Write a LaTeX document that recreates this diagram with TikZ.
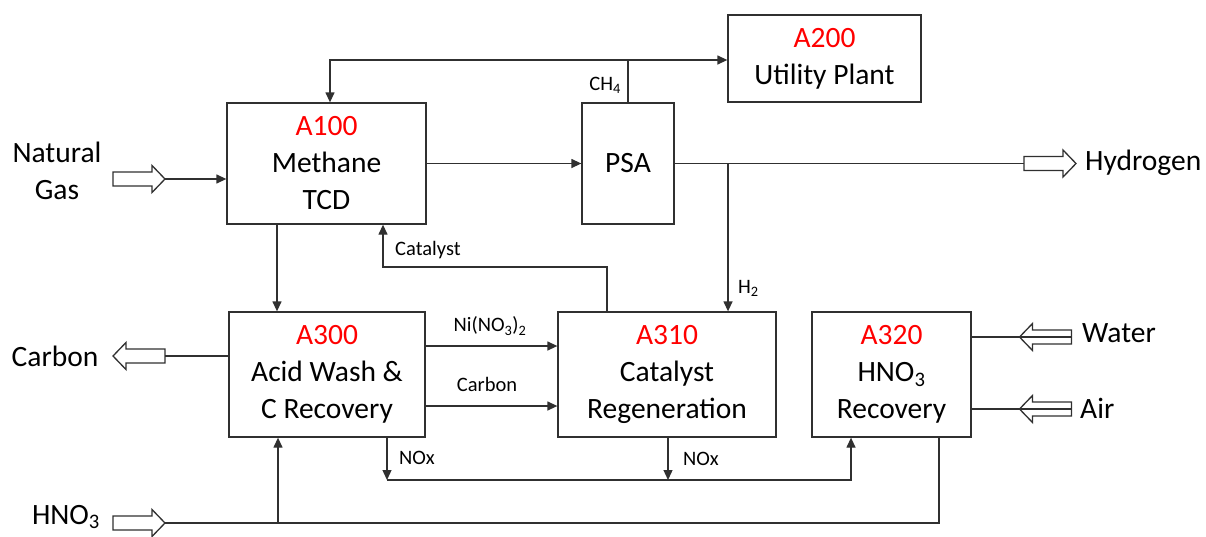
\documentclass[tikz,border=0pt]{standalone}
\usepackage{fontspec}
\setmainfont{Carlito}
\usetikzlibrary{arrows.meta}
\definecolor{ln}{HTML}{303030}
\tikzset{
  box/.style={draw=ln,line width=1.3pt,rectangle,align=center,inner sep=0pt,
    font=\fontsize{29.5}{37}\selectfont},
  lbl/.style={font=\fontsize{29.5}{37}\selectfont,align=center,inner sep=0pt},
  small/.style={font=\fontsize{20.5}{22}\selectfont,inner sep=0pt},
  flow/.style={draw=ln,line width=1.3pt},
  arr/.style={flow,-{Triangle[length=10pt,width=9pt]}},
  blkst/.style={draw=ln,line width=1.3pt,fill=white,line join=miter}
}
% right-pointing block arrow: name, left x, centre y
\newcommand\blkR[3]{%
  \draw[blkst] (#2,#3) ++(0,-7) -- ++(39,0) -- ++(0,-6.5) -- ++(13,13.5)
    -- ++(-13,13.5) -- ++(0,-6.5) -- ++(-39,0) -- cycle;
  \coordinate (#1-w) at (#2,#3);
  \coordinate (#1-e) at (#2+52,#3);}
% left-pointing block arrow: name, left x (tip), centre y
\newcommand\blkL[3]{%
  \draw[blkst] (#2,#3) -- ++(13,-13.5) -- ++(0,6.5) -- ++(39,0) -- ++(0,14)
    -- ++(-39,0) -- ++(0,6.5) -- cycle;
  \coordinate (#1-w) at (#2,#3);
  \coordinate (#1-e) at (#2+52,#3);}
\begin{document}
\begin{tikzpicture}[x=1pt,y=-1pt]
\useasboundingbox (0,0) rectangle (1206,536);
% boxes
\node[box,minimum width=199pt,minimum height=121pt] (A100) at (326.5,163.5)
  {\textcolor{red}{A100}\\Methane\\TCD};
\node[box,minimum width=92pt,minimum height=121pt] (PSA) at (628,163.5) {PSA};
\node[box,minimum width=193pt,minimum height=87pt] (A200) at (824.5,58.5)
  {\textcolor{red}{A200}\\Utility Plant};
\node[box,minimum width=196pt,minimum height=125pt] (A300) at (327,374.5)
  {\textcolor{red}{A300}\\Acid Wash \&\\C Recovery};
\node[box,minimum width=218pt,minimum height=125pt] (A310) at (667,374.5)
  {\textcolor{red}{A310}\\Catalyst\\Regeneration};
\node[box,minimum width=159pt,minimum height=125pt] (A320) at (891.5,374.5)
  {\textcolor{red}{A320}\\HNO\textsubscript{3}\\Recovery};
% block arrows
\blkR{ng}{113}{179}
\blkR{hy}{1024}{163.5}
\blkL{ca}{113}{356}
\blkR{hn}{113}{523}
\blkL{wa}{1019.5}{337}
\blkL{ai}{1019.5}{409}
% outside labels
\node[lbl] (tng) at (57,171) {Natural\\Gas};
\node[lbl,anchor=west] (thy) at (1085,163) {Hydrogen};
\node[lbl] (tca) at (55,356) {Carbon};
\node[lbl] (thn) at (66,517) {HNO\textsubscript{3}};
\node[lbl,anchor=west] (twa) at (1082,333) {Water};
\node[lbl,anchor=west] (tai) at (1080,408) {Air};
% coordinates
\coordinate (j1) at (628,60);
\coordinate (tl) at (330,60);
\coordinate (j2) at (728,163.5);
\coordinate (x277) at (277,0);
\coordinate (cat1) at (607,267);
\coordinate (cat2) at (383,267);
\coordinate (y346) at (0,346);
\coordinate (y406) at (0,406);
\coordinate (y356) at (0,356);
\coordinate (y337) at (0,337);
\coordinate (y409) at (0,409);
\coordinate (n1) at (387,480);
\coordinate (n2) at (668,480);
\coordinate (n3) at (851,480);
\coordinate (h1) at (278,523);
\coordinate (h2) at (939,523);
% connectors
\draw[arr] (ng-e) -- (ng-e -| A100.west);
\draw[arr] (A100.east) -- (PSA.west);
\draw[flow] (PSA.north) -- (j1);
\draw[arr] (j1) -- (j1 -| A200.west);
\draw[arr] (j1) -- (tl) -- (tl |- A100.north);
\draw[flow] (PSA.east) -- (hy-w);
\draw[arr] (j2) -- (j2 |- A310.north);
\draw[arr] (A100.south -| x277) -- (A300.north -| x277);
\draw[arr] (A310.north -| cat1) -- (cat1) -- (cat2) -- (cat2 |- A100.south);
\draw[arr] (A300.east |- y346) -- (A310.west |- y346);
\draw[arr] (A300.east |- y406) -- (A310.west |- y406);
\draw[flow] (A300.west |- y356) -- (ca-e);
\draw[arr] (A300.south -| n1) -- (n1);
\draw[arr] (A310.south -| n2) -- (n2);
\draw[arr] (n1) -- (n3) -- (n3 |- A320.south);
\draw[flow] (hn-e) -- (h2) -- (h2 |- A320.south);
\draw[arr] (h1) -- (A300.south -| h1);
\draw[flow] (A320.east |- y337) -- (wa-e);
\draw[flow] (A320.east |- y409) -- (ai-e);
% stream labels
\node[small,anchor=east] (lch) at (621,85) {CH\textsubscript{4}};
\node[small,anchor=west] (lcat) at (395,250) {Catalyst};
\node[small,anchor=west] (lh2) at (738,288) {H\textsubscript{2}};
\node[small] (lni) at (490,326) {Ni(NO\textsubscript{3})\textsubscript{2}};
\node[small] (lcb) at (487,384) {Carbon};
\node[small,anchor=west] (lno1) at (399,458) {NOx};
\node[small,anchor=west] (lno2) at (683,459) {NOx};
\end{tikzpicture}
\end{document}
